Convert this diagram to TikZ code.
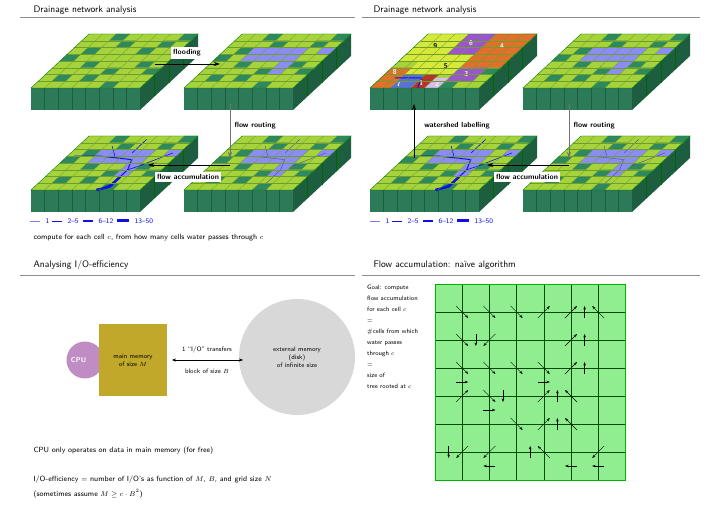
\documentclass[tikz,border=0pt]{standalone}
\usepackage{amssymb}
\usetikzlibrary{arrows.meta}
\definecolor{topg}{HTML}{A6D23C}
\definecolor{tileln}{HTML}{6E9E2C}
\definecolor{darkt}{HTML}{2E8A5E}
\definecolor{frontg}{HTML}{2C7A58}
\definecolor{sideg}{HTML}{1D5E40}
\definecolor{water}{HTML}{8C8CF5}
\definecolor{flowb}{HTML}{1010E0}
\definecolor{wsor}{HTML}{E0702A}
\definecolor{wsyl}{HTML}{D6E83A}
\definecolor{wspu}{HTML}{9A55CC}
\definecolor{wsrd}{HTML}{B83228}
\definecolor{wsbl}{HTML}{5A70D8}
\definecolor{cpuc}{HTML}{C08CC4}
\definecolor{memc}{HTML}{C2A82A}
\definecolor{diskc}{HTML}{D8D8D8}
\definecolor{gridg}{HTML}{90EE90}
\tikzset{
 titletext/.style={anchor=base west,font=\sffamily\fontsize{9.5}{11}\selectfont},
 body/.style={anchor=base west,font=\sffamily\fontsize{7.5}{9}\selectfont},
 oplabel/.style={fill=white,inner sep=2.5pt,font=\sffamily\bfseries\fontsize{7.5}{9}\selectfont},
 oparrow/.style={-{Stealth[length=6pt,width=4pt]},line width=0.7pt},
 faarrow/.style={-{Stealth[length=3.5pt,width=2.5pt]},line width=0.4pt},
 legend/.style={anchor=base west,font=\sffamily\fontsize{7}{8}\selectfont,text=flowb}
}
\newcommand{\terr}[3]{%
 \fill[sideg] (#1+109,#2) -- (#1+167,#2-54) -- (#1+167,#2-32) -- (#1+109,#2+22) -- cycle;
 \fill[frontg] (#1,#2) rectangle (#1+109,#2+22);
 \foreach \k in {1,...,7}{\draw[sideg,line width=0.5pt] (#1+\k*13.625,#2) -- (#1+\k*13.625,#2+22);}
 \foreach \k in {1,...,3}{\draw[black!60!green,line width=0.4pt] (#1+109+\k*14.5,#2-\k*13.5) -- (#1+109+\k*14.5,#2-\k*13.5+22);}
 \begin{scope}[shift={(#1,#2)},x=1pt,y=1pt,cm={13.625,0,7.25,6.75,(0,0)}]
  \fill[topg] (0,0) rectangle (8,8);
  \foreach \a/\b in {1/5,2/3,3/6,4/2,5/5,6/3,2/7,6/6,0/4,7/2,3/1,5/0,1/1,7/7}{\fill[darkt] (\a,\b) rectangle ++(1,1);}
  #3
  \foreach \k in {1,...,7}{\draw[tileln,line width=0.3pt] (\k,0) -- (\k,8); \draw[tileln,line width=0.3pt] (0,\k) -- (8,\k);}
  \draw[black!50!green,line width=0.4pt] (0,0) rectangle (8,8);
 \end{scope}}
\newcommand{\wat}{\fill[water] (2,4) rectangle (6,6); \fill[water] (7,5) rectangle (8,6); \fill[water] (5,2) rectangle (6,4);}
\newcommand{\flw}{\draw[flowb,line width=1pt] (0.5,5) -- (2.5,5) -- (5,4.5) -- (5.5,3) -- (5.5,1) -- (5,0);
 \draw[flowb,line width=0.6pt] (2.5,6.5) -- (3.5,5) (4.5,7.5) -- (4.5,5.5) (7.5,5.5) -- (6,3.5) -- (5.5,3);
 \draw[flowb,line width=2.5pt] (5.5,2) -- (5.5,0.5) -- (4.8,0);}
\newcommand{\thin}{\draw[flowb!50!gray,line width=0.4pt] (0.5,5) -- (2.5,5) -- (5,4.5) -- (5.5,3) -- (5.5,1) (2.5,6.5) -- (3.5,5) (4.5,7.5) -- (4.5,5.5) (7.5,5.5) -- (6,3.5);}
\newcommand{\wsh}{%
 \fill[wsor] (5,3) rectangle (8,8); \fill[wsor] (0,0) rectangle (1.5,3);
 \fill[wsyl] (0,4) rectangle (3,8); \fill[wsyl] (1.5,2) rectangle (3,4);
 \fill[wspu] (3,5) rectangle (5,8); \fill[wspu] (5,1) rectangle (7,3);
 \fill[wsyl] (3,2) rectangle (5,5); \fill[wsrd] (3,0) rectangle (4,2);
 \fill[wsbl] (1.5,0) rectangle (3,2); \fill[wspu!40!white] (4,0) rectangle (5,1.5);
 \draw[flowb,line width=1pt] (1,1.5) -- (3,1.5) -- (3.5,0);
 \node[font=\sffamily\bfseries\fontsize{7}{8}\selectfont] at (1.5,6.2) {9};
 \node[white,font=\sffamily\bfseries\fontsize{7}{8}\selectfont] at (3.9,6.6) {6};
 \node[white,font=\sffamily\bfseries\fontsize{7}{8}\selectfont] at (6.4,6.2) {4};
 \node[white,font=\sffamily\bfseries\fontsize{7}{8}\selectfont] at (0.6,2.3) {8};
 \node[font=\sffamily\bfseries\fontsize{7}{8}\selectfont] at (3.8,3.3) {5};
 \node[white,font=\sffamily\bfseries\fontsize{7}{8}\selectfont] at (6,2) {3};
 \node[white,font=\sffamily\bfseries\fontsize{7}{8}\selectfont] at (1.8,0.6) {7};
 \node[white,font=\sffamily\bfseries\fontsize{7}{8}\selectfont] at (3.4,0.7) {1};
 \node[white,font=\sffamily\bfseries\fontsize{7}{8}\selectfont] at (4.6,0.6) {2};}
\newcommand{\fa}[4]{%
 \pgfmathsetmacro{\cx}{(#1+0.5+0.5*(#3))*27.2}%
 \pgfmathsetmacro{\cy}{(#2+0.5+0.5*(#4))*28}%
 \pgfmathsetmacro{\ddx}{6*(#3)}%
 \pgfmathsetmacro{\ddy}{6*(#4)}%
 \draw[faarrow] (\cx-\ddx,\cy-\ddy) -- (\cx+\ddx,\cy+\ddy);}
\begin{document}
\begin{tikzpicture}[x=1pt,y=-1pt]
\useasboundingbox[fill=white] (0,0) rectangle (720,510);
% titles
\node[titletext] (t1) at (30,13) {Drainage network analysis};
\node[titletext] (t2) at (370,13) {Drainage network analysis};
\node[titletext] (t3) at (30,268) {Analysing I/O-efficiency};
\node[titletext] (t4) at (370,268) {Flow accumulation: na\"ive algorithm};
\draw[black!45,line width=0.5pt] (20,17) -- (355,17) (362,17) -- (700,17) (20,275) -- (355,275) (362,275) -- (700,275);
% terrains
\terr{31}{88}{}
\terr{184}{88}{\wat}
\terr{31}{190}{\wat\flw}
\terr{184}{190}{\wat\thin}
\terr{370}{88}{\wsh}
\terr{523}{88}{\wat}
\terr{370}{190}{\wat\flw}
\terr{523}{190}{\wat\thin}
% operation arrows
\coordinate (f1) at (155,64); \coordinate (f2) at (220,64);
\draw[oparrow] (f1) -- (f2);
\node[oplabel] (fl) at (187,53) {flooding};
\coordinate (r1) at (230,104); \coordinate (r2) at (230,158);
\draw[oparrow,black!55] (r1) -- (r2);
\node[oplabel,anchor=west] (rl) at (232,126) {flow routing};
\coordinate (a1) at (230,165); \coordinate (a2) at (148,165);
\draw[oparrow] (a1) -- (a2);
\node[oplabel] (al) at (188,177) {flow accumulation};
\coordinate (r3) at (569,104); \coordinate (r4) at (569,158);
\draw[oparrow,black!55] (r3) -- (r4);
\node[oplabel,anchor=west] (rl2) at (571,126) {flow routing};
\coordinate (a3) at (569,165); \coordinate (a4) at (487,165);
\draw[oparrow] (a3) -- (a4);
\node[oplabel] (al2) at (527,177) {flow accumulation};
\coordinate (w1) at (414,158); \coordinate (w2) at (414,104);
\draw[oparrow] (w1) -- (w2);
\node[oplabel] (wl) at (457,126) {watershed labelling};
% legends
\foreach \ox in {30,370}{
 \draw[flowb!55,line width=0.4pt] (\ox,221) -- (\ox+10,221);
 \node[legend] at (\ox+12,224) {1};
 \draw[flowb,line width=0.8pt] (\ox+22,221) -- (\ox+32,221);
 \node[legend] at (\ox+34,224) {2--5};
 \draw[flowb,line width=1.2pt] (\ox+53,221) -- (\ox+63,221);
 \node[legend] at (\ox+65,224) {6--12};
 \draw[flowb,line width=3pt] (\ox+87,221) -- (\ox+99,221);
 \node[legend] at (\ox+101,224) {13--50};}
\node[body] (cmp) at (30,240) {compute for each cell $c$, from how many cells water passes through $c$};
% I/O model
\node[circle,fill=cpuc,minimum size=37pt,inner sep=0pt,text=white,font=\sffamily\bfseries\fontsize{7}{8}\selectfont] (cpu) at (85,360) {CPU\ \ \ \ \ \ };
\node[fill=memc,minimum width=68pt,minimum height=71pt,align=center,font=\sffamily\fontsize{6.5}{8}\selectfont] (mem) at (133,360) {main memory\\of size $M$};
\node[circle,fill=diskc,minimum size=116pt,align=center,font=\sffamily\fontsize{6.5}{8}\selectfont] (disk) at (297,357) {external memory\\(disk)\\of infinite size};
\coordinate (io1) at (172,360); \coordinate (io2) at (243,360);
\draw[{Stealth[length=4pt,width=3pt]}-{Stealth[length=4pt,width=3pt]},line width=0.4pt] (io1) -- (io2);
\node[font=\sffamily\fontsize{6.5}{8}\selectfont] (io) at (207,350) {1 ``I/O'' transfers};
\node[font=\sffamily\fontsize{6.5}{8}\selectfont] (blk) at (207,371) {block of size $B$};
\node[body] (b1) at (30,452) {CPU only operates on data in main memory (for free)};
\node[body] (b2) at (30,481) {I/O-efficiency $=$ number of I/O's as function of $M$, $B$, and grid size $N$};
\node[body] (b3) at (30,496) {(sometimes assume $M\geq c\cdot B^2$)};
% naive algorithm
\node[anchor=north west,align=left,inner sep=0pt,font=\sffamily\fontsize{6.3}{11}\selectfont] (goal) at (367,285) {Goal: compute\\flow accumulation\\for each cell $c$\\$=$\\\#cells from which\\water passes\\through $c$\\$=$\\size of\\tree rooted at $c$};
\begin{scope}[shift={(435,284)}]
 \fill[gridg] (0,0) rectangle (190.4,196);
 \foreach \k in {1,...,6}{\draw[black!70!green,line width=0.5pt] (\k*27.2,0) -- (\k*27.2,196) (0,\k*28) -- (190.4,\k*28);}
 \draw[black!30!green,line width=0.5pt] (0,0) rectangle (190.4,196);
 \fa{0}{0}{1}{1}\fa{1}{0}{1}{1}\fa{2}{0}{1}{1}\fa{3}{1}{1}{-1}\fa{4}{1}{1}{-1}\fa{5}{1}{0}{-1}\fa{6}{1}{-1}{-1}
 \fa{0}{1}{1}{1}\fa{1}{1}{0}{1}\fa{2}{1}{-1}{1}\fa{4}{2}{1}{-1}\fa{5}{2}{0}{-1}
 \fa{0}{2}{1}{1}\fa{1}{2}{1}{1}\fa{2}{2}{1}{1}\fa{3}{2}{1}{1}\fa{4}{3}{1}{-1}\fa{5}{3}{0}{-1}
 \fa{0}{3}{1}{0}\fa{3}{3}{1}{0}
 \fa{0}{4}{1}{-1}\fa{1}{3}{1}{1}\fa{2}{3}{0}{1}\fa{3}{4}{1}{-1}\fa{4}{4}{0}{-1}\fa{5}{4}{-1}{-1}\fa{1}{4}{1}{0}
 \fa{2}{4}{1}{1}\fa{3}{5}{1}{-1}\fa{4}{5}{0}{-1}\fa{5}{5}{-1}{-1}
 \fa{0}{5}{0}{1}\fa{1}{5}{-1}{1}\fa{2}{5}{-1}{1}\fa{3}{6}{0}{-1}\fa{4}{6}{-1}{-1}\fa{6}{5}{-1}{1}
 \fa{2}{6}{-1}{0}\fa{5}{6}{-1}{0}\fa{6}{6}{-1}{0}
\end{scope}
\end{tikzpicture}
\end{document}
